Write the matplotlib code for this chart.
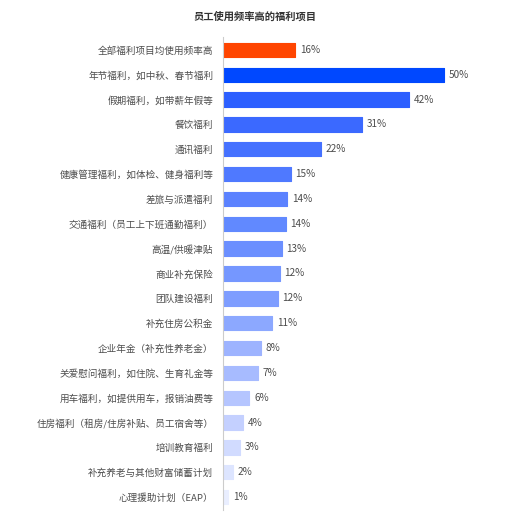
import matplotlib
matplotlib.use('Agg')
import matplotlib.pyplot as plt

plt.rcParams['font.family'] = ['Noto Sans CJK SC', 'DejaVu Sans']

# data (bar length in %, printed label)
categories = ['全部福利项目均使用频率高', '年节福利，如中秋、春节福利', '假期福利，如带薪年假等',
              '餐饮福利', '通讯福利', '健康管理福利，如体检、健身福利等', '差旅与派遣福利',
              '交通福利（员工上下班通勤福利）', '高温/供暖津贴', '商业补充保险', '团队建设福利',
              '补充住房公积金', '企业年金（补充性养老金）', '关爱慰问福利，如住院、生育礼金等',
              '用车福利，如提供用车，报销油费等', '住房福利（租房/住房补贴、员工宿舍等）',
              '培训教育福利', '补充养老与其他财富储蓄计划', '心理援助计划（EAP）']
values = [16.4, 50.0, 42.0, 31.5, 22.1, 15.3, 14.6, 14.2, 13.3, 12.8, 12.4, 11.1,
          8.5, 7.9, 6.0, 4.6, 3.8, 2.2, 1.2]
value_labels = ['16%', '50%', '42%', '31%', '22%', '15%', '14%', '14%', '13%', '12%',
                '12%', '11%', '8%', '7%', '6%', '4%', '3%', '2%', '1%']
title = '员工使用频率高的福利项目'

colors = ['#FF4500', '#0048FF', '#2C5FFF', '#3B69FF', '#4571FF', '#4F79FF', '#5B82FF',
          '#6189FF', '#6B8FFF', '#7597FF', '#7E9DFF', '#8CA8FF', '#9DB3FF', '#A7BBFF',
          '#B5C5FF', '#C4D0FF', '#D1DBFF', '#DDE5FF', '#E9EEFF']

fig = plt.figure(figsize=(5.29, 5.21), dpi=100)
W, H = 529, 521
left, right, top, bottom = 223, 488, 37, 510
ax = fig.add_axes([left / W, 1 - bottom / H, (right - left) / W, (bottom - top) / H])

ypos = list(range(len(categories)))
ax.barh(ypos, values, height=0.58, color=colors, edgecolor=colors, linewidth=0.8,
        joinstyle='round')

for y, v, lab in zip(ypos, values, value_labels):
    ax.text(v + 1.1, y, lab, va='center', ha='left', fontsize=7.2, color='#4d4d4d')

ax.set_xlim(0, 60)
ax.set_ylim(len(categories) - 0.48, -0.52)
ax.set_yticks(ypos)
ax.set_yticklabels(categories, fontsize=6.9, color='#4d4d4d')
ax.tick_params(axis='y', length=0, pad=7)
ax.set_xticks([])
for s in ['top', 'right', 'bottom']:
    ax.spines[s].set_visible(False)
ax.spines['left'].set_color('#cccccc')
ax.spines['left'].set_linewidth(0.8)

fig.text(255 / W, 1 - 17 / H, title, ha='center', va='center', fontsize=7.4,
         fontweight='bold', color='#333333')

fig.savefig('out.png', dpi=100, facecolor='white')
